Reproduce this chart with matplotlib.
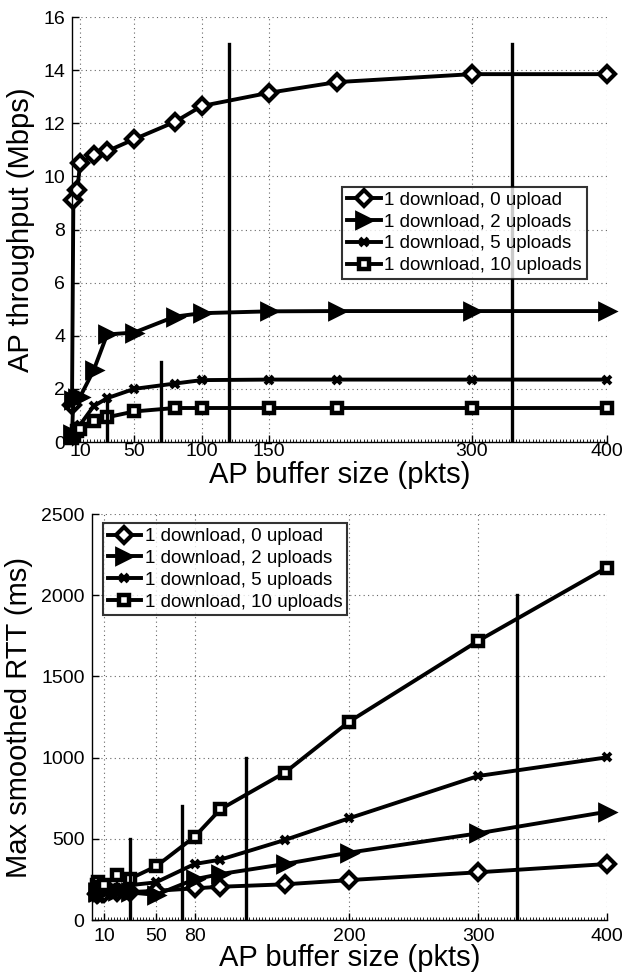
import matplotlib
matplotlib.use("Agg")
import matplotlib.pyplot as plt
from matplotlib.ticker import MultipleLocator

plt.rcParams['font.family'] = ['Liberation Sans', 'DejaVu Sans']

# buffer sizes (pkts)
buf = [4, 5, 8, 10, 20, 30, 50, 80, 100, 150, 200, 300, 400]

labels = ["1 download, 0 upload", "1 download, 2 uploads",
          "1 download, 5 uploads", "1 download, 10 uploads"]

# AP throughput (Mbps)
thr_0up = [1.4, 9.1, 9.5, 10.5, 10.8, 10.95, 11.4, 12.05, 12.65, 13.15, 13.55, 13.85, 13.85]
thr_2up = [0.3, 1.6, 1.65, 1.7, 2.7, 4.05, 4.12, 4.72, 4.85, 4.92, 4.93, 4.93, 4.93]
thr_5up = [0.2, 0.35, 0.5, 0.65, 1.35, 1.65, 2.0, 2.2, 2.33, 2.35, 2.35, 2.35, 2.35]
thr_10up = [0.15, 0.25, 0.4, 0.5, 0.78, 0.93, 1.15, 1.28, 1.28, 1.28, 1.28, 1.28, 1.28]

# max smoothed RTT (ms)
rtt_0up = [160, 165, 165, 168, 170, 172, 180, 195, 205, 220, 246, 294, 345]
rtt_2up = [170, 172, 175, 180, 180, 170, 155, 251, 283, 345, 415, 534, 667]
rtt_5up = [175, 180, 190, 195, 200, 215, 232, 345, 372, 493, 627, 887, 1002]
rtt_10up = [215, 236, 205, 215, 275, 255, 330, 513, 682, 908, 1222, 1719, 2171]

# vertical reference bars
bar_x = [30, 70, 120, 330]
bar_top_thr = [1.5, 3, 15, 15]
bar_top_rtt = [500, 700, 1000, 2000]

top_xticks = [10, 50, 100, 150, 300, 400]
bot_xticks = [10, 50, 80, 200, 300, 400]

styles = [
    dict(marker='D', ms=8, mfc='white', mew=3),
    dict(marker='>', ms=11, mfc='black', mew=2),
    dict(marker='x', ms=5.5, mfc='black', mew=2.8),
    dict(marker='s', ms=7, mfc='white', mew=3.2),
]

fig = plt.figure(figsize=(6.25, 9.74), dpi=100)
ax1 = fig.add_axes([0.1152, 0.5462, 0.856, 0.4363])
ax2 = fig.add_axes([0.1464, 0.0554, 0.8248, 0.4168])


def style_axis(ax, xpad):
    for s in ['top', 'right']:
        ax.spines[s].set_visible(False)
    for s in ['left', 'bottom']:
        ax.spines[s].set_linewidth(1.0)
    ax.grid(True, linestyle=(0, (1, 3)), color='#666666', linewidth=0.8)
    ax.tick_params(direction='in', labelsize=14, length=5, width=1, pad=5)
    ax.tick_params(axis='x', pad=xpad)
    ax.tick_params(which='minor', direction='in', length=2.5, width=0.6)
    ax.set_axisbelow(True)


series_thr = [thr_0up, thr_2up, thr_5up, thr_10up]
for ys, lab, st in zip(series_thr, labels, styles):
    ax1.plot(buf, ys, color='black', lw=2.8, mec='black', label=lab, clip_on=False, **st)
for x, h in zip(bar_x, bar_top_thr):
    ax1.plot([x, x], [0, h], color='black', lw=2.4)
ax1.set_xlim(4, 400)
ax1.set_ylim(0, 16)
ax1.set_xticks(top_xticks)
ax1.set_yticks(range(0, 17, 2))
ax1.xaxis.set_minor_locator(MultipleLocator(2.5))
style_axis(ax1, 1)
ax1.set_xlabel('AP buffer size (pkts)', fontsize=21, labelpad=0.5)
ax1.set_ylabel('AP throughput (Mbps)', fontsize=21, labelpad=6)
leg1 = ax1.legend(loc='upper left', bbox_to_anchor=(0.505, 0.6), fontsize=13.5,
                  frameon=True, fancybox=False, edgecolor='black', handlelength=1.8,
                  handletextpad=0.2, borderpad=0.25, labelspacing=0.25, borderaxespad=0)
leg1.get_frame().set_linewidth(1.5)

series_rtt = [rtt_0up, rtt_2up, rtt_5up, rtt_10up]
for ys, lab, st in zip(series_rtt, labels, styles):
    ax2.plot(buf, ys, color='black', lw=2.8, mec='black', label=lab, clip_on=False, **st)
for x, h in zip(bar_x, bar_top_rtt):
    ax2.plot([x, x], [0, h], color='black', lw=2.4)
ax2.set_xlim(0, 400)
ax2.set_ylim(0, 2500)
ax2.set_xticks(bot_xticks)
ax2.set_yticks(range(0, 2501, 500))
ax2.xaxis.set_minor_locator(MultipleLocator(2.5))
style_axis(ax2, 6)
ax2.set_xlabel('AP buffer size (pkts)', fontsize=21, labelpad=-1)
ax2.set_ylabel('Max smoothed RTT (ms)', fontsize=21, labelpad=6)
leg2 = ax2.legend(loc='upper left', bbox_to_anchor=(0.022, 0.977), fontsize=13.5,
                  frameon=True, fancybox=False, edgecolor='black', handlelength=1.8,
                  handletextpad=0.2, borderpad=0.25, labelspacing=0.25, borderaxespad=0)
leg2.get_frame().set_linewidth(1.5)

fig.savefig('out.png', dpi=100, facecolor='white')
